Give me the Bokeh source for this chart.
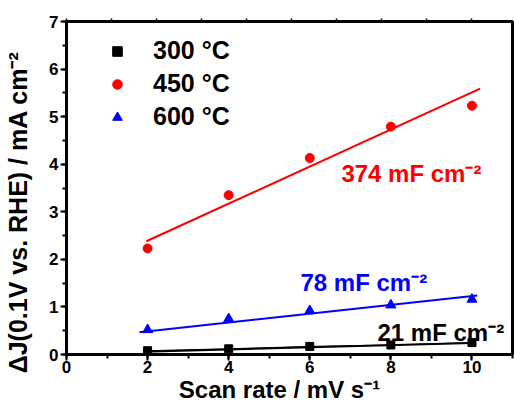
from bokeh.plotting import figure
from bokeh.models import (Range1d, LinearAxis, SingleIntervalTicker, FixedTicker, Legend, LegendItem, Label)
from bokeh.embed import file_html
from bokeh.resources import INLINE

# ---- data ----
scan_rate = [2, 4, 6, 8, 10]
j_300 = [0.08, 0.12, 0.17, 0.20, 0.25]
j_450 = [2.23, 3.35, 4.13, 4.79, 5.23]
j_600 = [0.52, 0.75, 0.92, 1.04, 1.16]

fit300_x = [1.9, 10.0]
fit300_y = [0.06, 0.24]
fit450_x = [1.97, 10.2]
fit450_y = [2.38, 5.59]
fit600_x = [1.8, 10.13]
fit600_y = [0.47, 1.24]

series_names = ["300 °C", "450 °C", "600 °C"]
cap_labels = ["21 mF cm⁻²", "374 mF cm⁻²", "78 mF cm⁻²"]
cap_pos_x = [7.67, 6.78, 5.77]
cap_pos_y = [0.46, 3.80, 1.51]
top_ticks = [0, 1, 2, 3, 4, 5, 6, 7, 8, 9]

NB = "\u00a0"
x_title = "Scan rate / mV s⁻¹" + NB * 3
y_title = "ΔJ(0.1V vs. RHE) / mA cm⁻²" + NB * 7

FONT = "Liberation Sans"

p = figure(width=514, height=405, output_backend="svg", toolbar_location=None,
           x_range=Range1d(0, 11), y_range=Range1d(0, 7),
           min_border_left=66, min_border_right=2, min_border_top=21, min_border_bottom=51,
           x_axis_label=x_title, y_axis_label=y_title)
p.background_fill_color = "white"
p.border_fill_color = "white"
p.outline_line_color = "black"
p.outline_line_width = 3
p.grid.visible = False

xa = p.xaxis[0]
xa.ticker = SingleIntervalTicker(interval=2, num_minor_ticks=2)
ya = p.yaxis[0]
ya.ticker = SingleIntervalTicker(interval=1, num_minor_ticks=2)
for ax in (xa, ya):
    ax.axis_line_width = 3
    ax.axis_line_color = "black"
    ax.major_tick_line_width = 2
    ax.minor_tick_line_width = 2
    ax.major_tick_in = 0
    ax.major_tick_out = 6
    ax.minor_tick_in = 0
    ax.minor_tick_out = 4
    ax.major_label_text_font = FONT
    ax.major_label_text_font_style = "bold"
    ax.major_label_text_font_size = "17px"
    ax.major_label_text_color = "black"
    ax.axis_label_text_font = FONT
    ax.axis_label_text_font_style = "bold"
    ax.axis_label_text_color = "black"
xa.major_label_standoff = 0
xa.axis_label_standoff = 0
xa.axis_label_text_font_size = "24px"
ya.major_label_standoff = 2
ya.axis_label_standoff = 14
ya.axis_label_text_font_size = "25px"

# top axis: ticks only (separate spacing, as in the reference)
p.extra_x_ranges = {"top": Range1d(0, 9.91)}
top = LinearAxis(x_range_name="top", ticker=FixedTicker(ticks=[], minor_ticks=top_ticks),
                 major_tick_in=0, major_tick_out=0, minor_tick_in=0, minor_tick_out=3,
                 minor_tick_line_width=1.5, axis_line_width=3)
p.add_layout(top, "above")

# fit lines
p.line(fit300_x, fit300_y, line_color="black", line_width=2)
p.line(scan_rate, j_300, line_color="black", line_width=1)
p.line(fit450_x, fit450_y, line_color="red", line_width=2)
p.line(fit600_x, fit600_y, line_color="blue", line_width=2)

# points
r300 = p.scatter(scan_rate, j_300, marker="square", size=8, color="black")
r450 = p.scatter(scan_rate, j_450, marker="circle", size=9, color="red")
r600 = p.scatter(scan_rate, j_600, marker="triangle", size=10, color="blue")

legend = Legend(items=[LegendItem(label=series_names[0], renderers=[r300]),
                       LegendItem(label=series_names[1], renderers=[r450]),
                       LegendItem(label=series_names[2], renderers=[r600])],
                location="top_left", margin=5, padding=10, spacing=4,
                glyph_width=72, glyph_height=24, label_height=24, label_standoff=0,
                label_text_font=FONT, label_text_font_style="bold", label_text_font_size="25px",
                label_text_color="black",
                border_line_alpha=0, background_fill_alpha=0)
p.add_layout(legend, "center")

colors = ["black", "red", "blue"]
for t, x, y, c in zip(cap_labels, cap_pos_x, cap_pos_y, colors):
    p.add_layout(Label(x=x, y=y, text=t, text_color=c, text_font=FONT, text_font_style="bold",
                       text_font_size="24px", text_baseline="middle", text_align="left"))

open("out.html", "w").write(file_html(p, INLINE))
